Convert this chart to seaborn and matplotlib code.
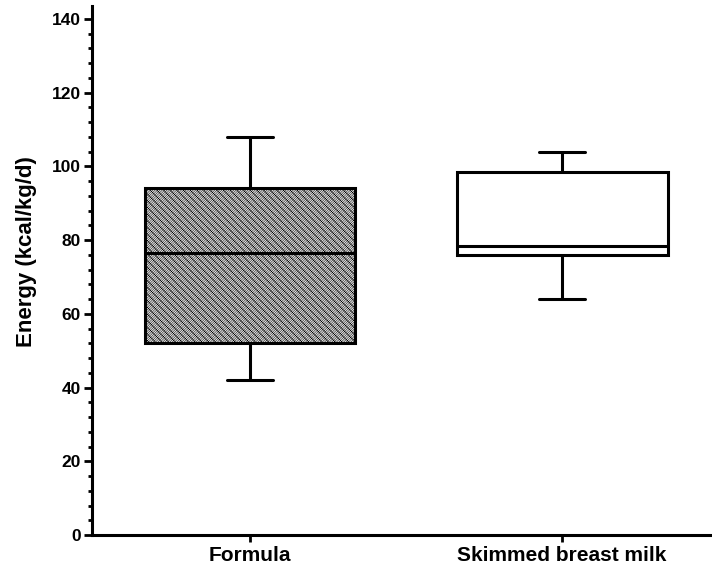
import pandas as pd
import numpy as np
import matplotlib
matplotlib.use("Agg")
import matplotlib.pyplot as plt
from matplotlib.ticker import MultipleLocator
import seaborn as sns

# five-number summaries (min, Q1, median, Q3, max)
groups = ["Formula", "Skimmed breast milk"]
formula_vals = [42, 52, 76.5, 94, 108]
skimmed_vals = [64, 76, 78.5, 98.5, 104]

df = pd.DataFrame({
    "group": [groups[0]] * len(formula_vals) + [groups[1]] * len(skimmed_vals),
    "energy": formula_vals + skimmed_vals,
})

sns.set_style("ticks")
plt.rcParams["font.family"] = ["Liberation Sans", "DejaVu Sans"]
plt.rcParams["font.weight"] = "bold"
plt.rcParams["hatch.linewidth"] = 0.35
for k in ["text.color", "axes.labelcolor", "xtick.color", "ytick.color", "axes.edgecolor"]:
    plt.rcParams[k] = "black"

fig = plt.figure(figsize=(7.12, 5.69), dpi=100)
ax = fig.add_axes([92 / 712, 34 / 569, 620 / 712, 529 / 569])

lw = 2.2
sns.boxplot(data=df, x="group", y="energy", hue="group", order=groups,
            palette=["#e2e2e2", "white"], legend=False, whis=(0, 100),
            width=0.675, linewidth=lw, linecolor="black", ax=ax,
            capwidths=0.147,
            medianprops=dict(color="black", linewidth=lw),
            whiskerprops=dict(color="black", linewidth=lw),
            capprops=dict(color="black", linewidth=lw))

# hatch the formula box
for p in ax.patches:
    fc = p.get_facecolor()
    if fc[0] < 0.95:
        p.set_hatch("/" * 14 + "\\" * 5)
    p.set_edgecolor("black")
    p.set_linewidth(lw)

ax.set_ylim(0, 143.5)
ax.set_xlim(-0.506, 1.48)
ax.yaxis.set_major_locator(MultipleLocator(20))
ax.yaxis.set_minor_locator(MultipleLocator(4))
ax.set_xlabel("")
ax.set_ylabel("Energy (kcal/kg/d)", fontsize=16, fontweight="bold")
ax.yaxis.set_label_coords(-0.088, 0.535)

for side in ["top", "right"]:
    ax.spines[side].set_visible(False)
for side in ["left", "bottom"]:
    ax.spines[side].set_linewidth(2.2)

ax.tick_params(axis="y", which="major", length=6, width=2, labelsize=12.5, pad=2)
ax.tick_params(axis="y", which="minor", length=3, width=2)
ax.tick_params(axis="x", which="major", length=5, width=2, labelsize=15, pad=3)
for lab in ax.get_xticklabels() + ax.get_yticklabels():
    lab.set_fontweight("bold")

fig.savefig("out.png", dpi=100)
